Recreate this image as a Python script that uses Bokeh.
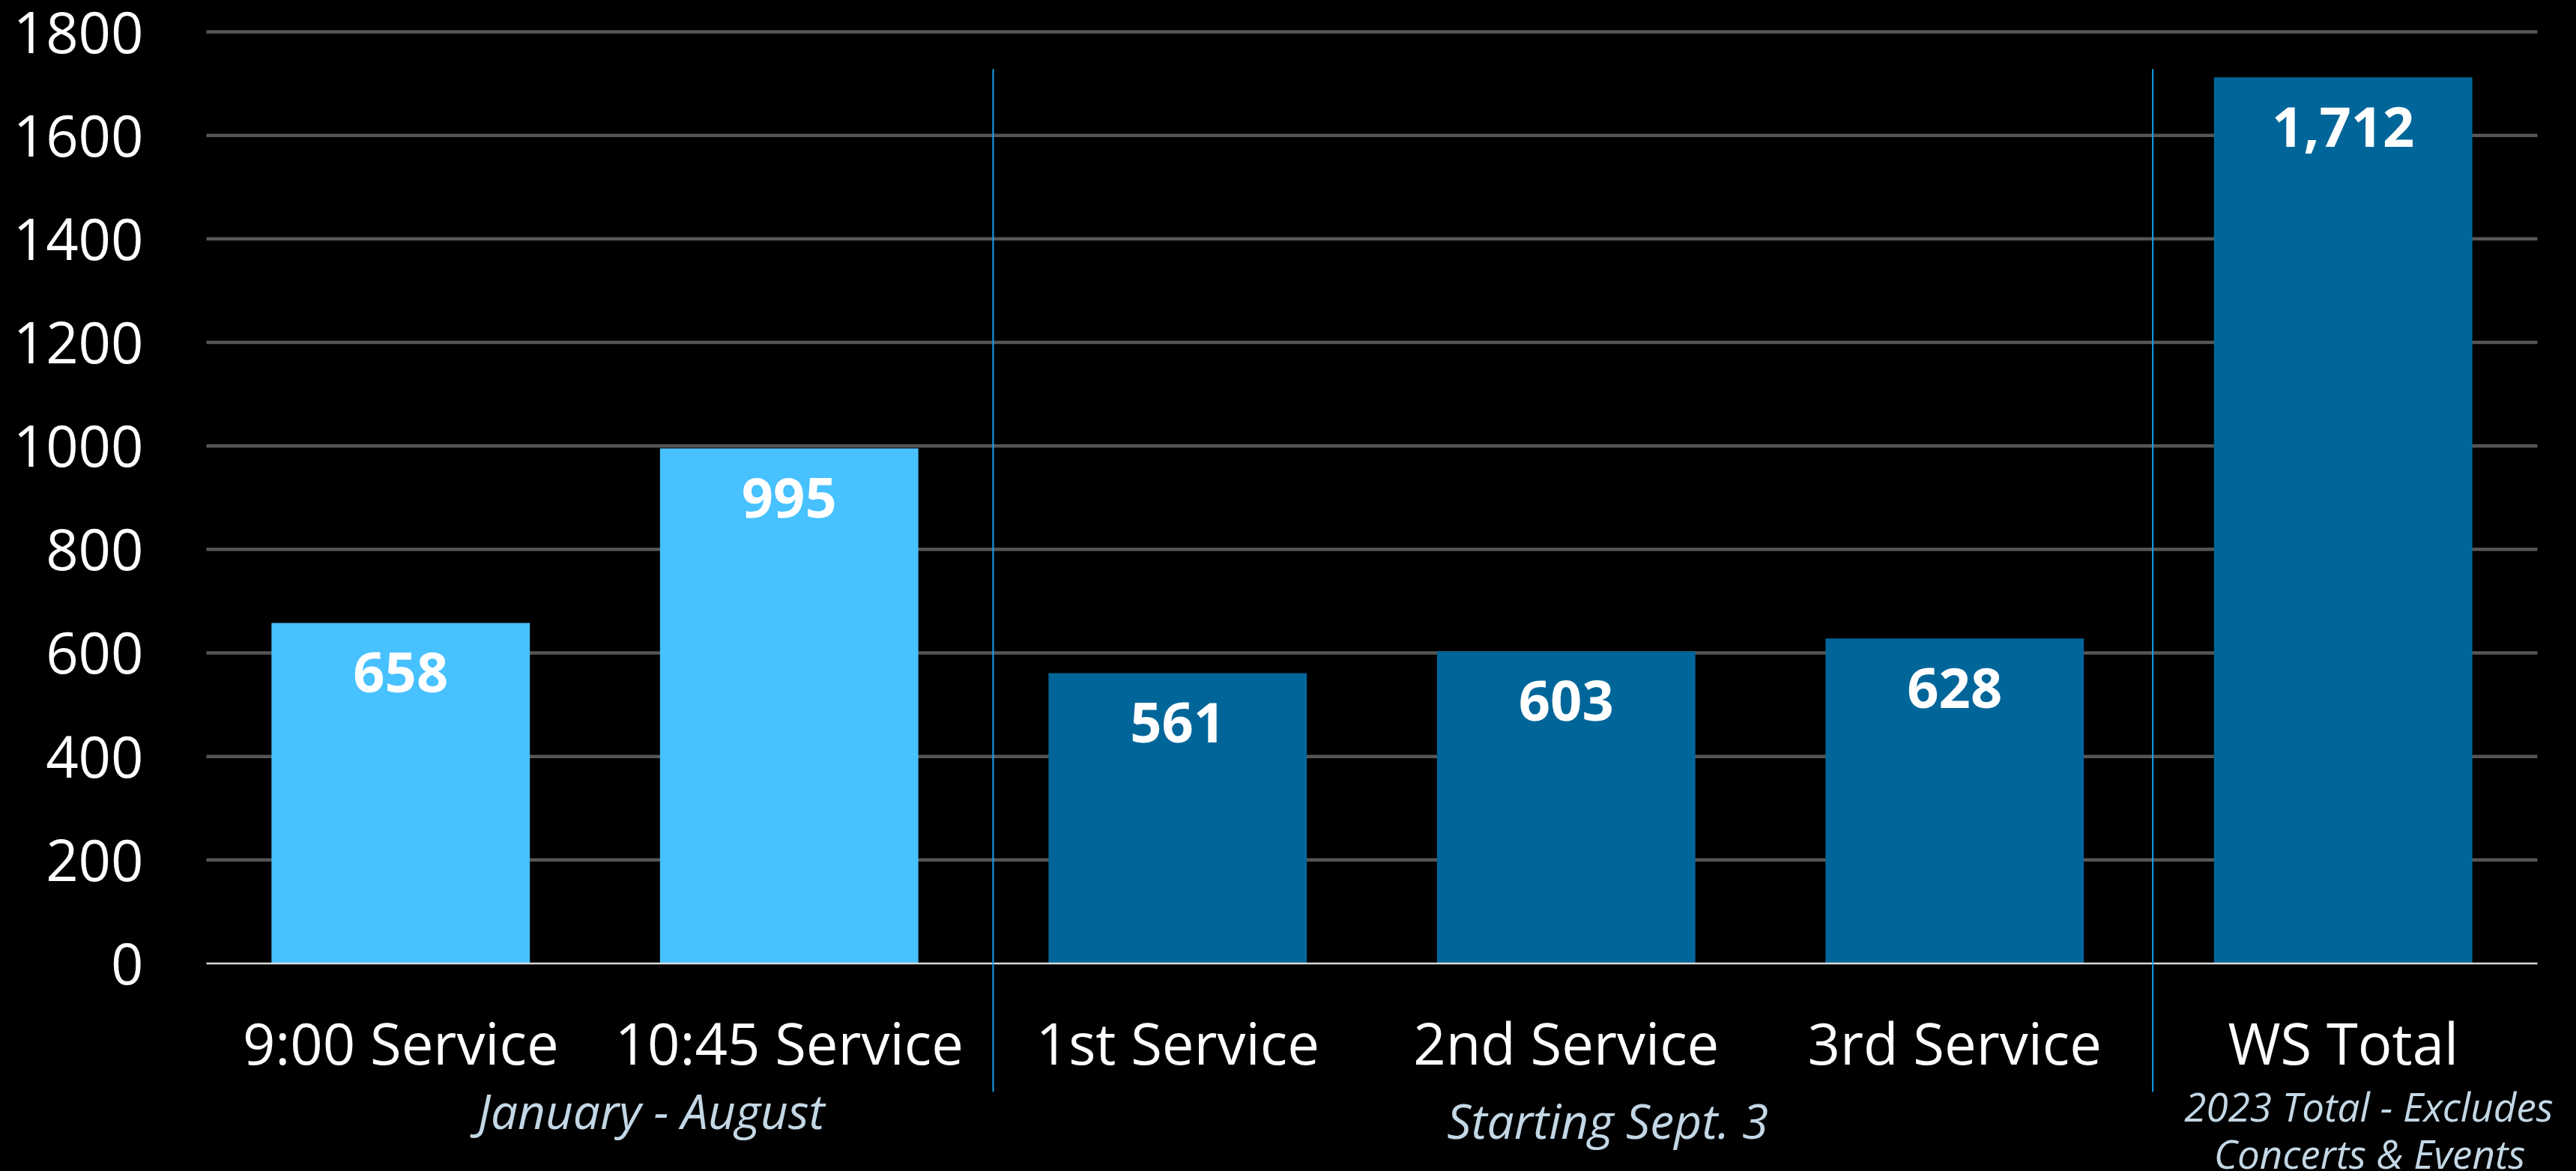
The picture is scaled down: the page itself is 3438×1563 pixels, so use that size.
from bokeh.plotting import figure
from bokeh.models import ColumnDataSource, FactorRange, FixedTicker
from bokeh.core.properties import value
from bokeh.embed import file_html
from bokeh.resources import INLINE

# ---------------- data ----------------
categories = ["9:00 Service", "10:45 Service", "1st Service", "2nd Service", "3rd Service", "WS Total"]
attendance = [658, 995, 561, 603, 628, 1712]
category_group = [0, 0, 1, 1, 1, 2]
group_labels = ["January - August", "Starting Sept. 3"]
note_lines = ["2023 Total - Excludes", "Concerts & Events"]
y_ticks = [0, 200, 400, 600, 800, 1000, 1200, 1400, 1600, 1800]

# ---------------- style / layout ----------------
FONT = "Open Sans"
BG = "#000000"
group_colors = ["#48C1FF", "#006699", "#006699"]
SUB_COLOR = "#C3D7E5"
GRID_COLOR = "#565656"
SEP_COLOR = "#12A5F0"
W, H = 3438, 1563
Y_START, Y_END = -401.7, 1860.8
X_PAD = 0.1003  # extra room on both sides of the categories (synthetic units)

n_cat = len(categories)

p = figure(
    x_range=FactorRange(factors=categories, range_padding=X_PAD, range_padding_units="absolute"),
    y_range=(Y_START, Y_END),
    width=W, height=H,
    output_backend="svg", toolbar_location=None,
    background_fill_color=BG, border_fill_color=BG,
    min_border_left=223, min_border_right=0, min_border_top=0, min_border_bottom=0,
)
p.outline_line_color = None
p.xaxis.visible = False
p.xgrid.grid_line_color = None
p.ygrid.grid_line_color = None

p.yaxis.ticker = FixedTicker(ticks=y_ticks)
p.yaxis.axis_line_color = None
p.yaxis.major_tick_line_color = None
p.yaxis.minor_tick_line_color = None
p.yaxis.major_label_standoff = 26
p.yaxis.major_label_text_font = FONT
p.yaxis.major_label_text_font_size = "76px"
p.yaxis.major_label_text_color = "#FFFFFF"

# horizontal gridlines spanning the category area only
grid_ticks = [t for t in y_ticks if t != 0]
p.segment(x0=[0] * len(grid_ticks), x1=[n_cat] * len(grid_ticks), y0=grid_ticks, y1=grid_ticks,
          line_color=GRID_COLOR, line_width=4.5)

# bars
bars = ColumnDataSource(dict(
    cat=categories,
    val=attendance,
    lbl=[f"{v:,}" for v in attendance],
    color=[group_colors[g] for g in category_group],
))
p.vbar(x="cat", top="val", width=0.665, fill_color="color", line_color=None, source=bars)

# zero axis line
p.segment(x0=[0], x1=[n_cat], y0=[0], y1=[0], line_color="#D9D9D9", line_width=2.5)

# value labels inside bars
p.text(x="cat", y="val", text="lbl", source=bars, y_offset=66,
       text_font=value(FONT), text_font_style="bold", text_font_size="74px",
       text_color="#FFFFFF", text_align="center", text_baseline="middle")

# category labels (drawn below the zero line)
p.text(x=categories, y=[-152] * n_cat, text=categories,
       text_font=value(FONT), text_font_size="76px", text_color="#FFFFFF",
       text_align="center", text_baseline="middle")

# group separators
boundaries = []
acc = 0
for g in range(2):
    acc += category_group.count(g)
    boundaries.append(acc)
sep_nudge = [0.025, 0.01]
sep_x = [b + n for b, n in zip(boundaries, sep_nudge)]
p.segment(x0=sep_x, x1=sep_x, y0=[1728] * 2, y1=[-248] * 2,
          line_color=SEP_COLOR, line_width=2)

# group sub-labels
p.text(x=[1.145, 3.607], y=[-285, -303], text=group_labels,
       text_font=value(FONT), text_font_style="italic", text_font_size="64px",
       text_color=SUB_COLOR, text_align="center", text_baseline="middle")

# note under WS Total
p.text(x=[5.566, 5.568], y=[-276, -367], text=note_lines,
       text_font=value(FONT), text_font_style="italic", text_font_size="53px",
       text_color=SUB_COLOR, text_align="center", text_baseline="middle")

html = file_html(p, INLINE, title="Attendance")
html = html.replace("</head>", "<style>html,body{background:#000000;}</style></head>", 1)
open("out.html", "w").write(html)
